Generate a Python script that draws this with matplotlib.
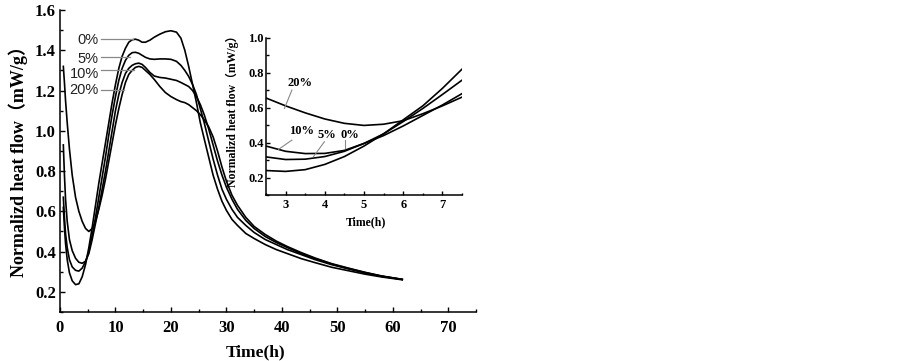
"""Normalized heat flow curves with inset zoom on the early minimum."""

import matplotlib
matplotlib.use("Agg")
import matplotlib.pyplot as plt
from matplotlib.ticker import MultipleLocator

SERIF = ["Liberation Serif", "Noto Sans CJK SC", "DejaVu Serif"]
SANS = ["Liberation Sans", "DejaVu Sans"]

# ── data ───────────────────────────────────────────────────────────────────
series_labels = ["0%", "5%", "10%", "20%"]

t_main = [0.6, 0.8, 1.0, 1.3, 1.7, 2.2, 2.8, 3.4, 4.0, 4.6,
          5.2, 5.8, 6.4, 7.0, 7.6, 8.2, 8.8, 9.4, 10.0, 10.6,
          11.2, 11.8, 12.4, 13.0, 13.6, 14.2, 14.8, 15.4, 16.2, 17.0,
          18.0, 19.0, 20.0, 21.0, 21.8, 22.5, 23.2, 23.9, 24.6, 25.3,
          26.0, 26.8, 27.6, 28.4, 29.2, 30.0, 31.0, 32.0, 33.5, 35.0,
          37.0, 39.0, 41.0, 43.5, 46.0, 49.0, 52.0, 55.0, 58.0, 61.7]

flow_0 = [0.62, 0.52, 0.44, 0.36, 0.295, 0.255, 0.236, 0.24, 0.275, 0.335,
          0.42, 0.52, 0.63, 0.74, 0.84, 0.94, 1.04, 1.14, 1.23, 1.31,
          1.37, 1.41, 1.44, 1.452, 1.455, 1.45, 1.44, 1.44, 1.45, 1.465,
          1.48, 1.492, 1.497, 1.49, 1.46, 1.40, 1.32, 1.23, 1.14, 1.04,
          0.96, 0.87, 0.78, 0.71, 0.65, 0.605, 0.56, 0.53, 0.49, 0.465,
          0.435, 0.41, 0.39, 0.365, 0.345, 0.322, 0.305, 0.288, 0.274, 0.26]

flow_5 = [0.67, 0.57, 0.49, 0.42, 0.36, 0.324, 0.307, 0.303, 0.318, 0.35,
          0.40, 0.48, 0.57, 0.67, 0.77, 0.87, 0.98, 1.08, 1.17, 1.25,
          1.31, 1.35, 1.375, 1.388, 1.39, 1.385, 1.375, 1.365, 1.357, 1.355,
          1.357, 1.357, 1.355, 1.345, 1.325, 1.30, 1.27, 1.23, 1.18, 1.11,
          1.04, 0.95, 0.86, 0.78, 0.71, 0.66, 0.61, 0.57, 0.53, 0.495,
          0.46, 0.435, 0.41, 0.385, 0.36, 0.335, 0.314, 0.294, 0.277, 0.262]

flow_10 = [0.93, 0.78, 0.66, 0.55, 0.46, 0.405, 0.367, 0.347, 0.342, 0.352,
           0.39, 0.46, 0.54, 0.62, 0.71, 0.80, 0.90, 1.00, 1.10, 1.18,
           1.24, 1.285, 1.31, 1.325, 1.333, 1.336, 1.33, 1.315, 1.29, 1.272,
           1.265, 1.262, 1.256, 1.25, 1.24, 1.23, 1.22, 1.20, 1.17, 1.13,
           1.08, 1.01, 0.93, 0.85, 0.78, 0.72, 0.66, 0.61, 0.555, 0.515,
           0.475, 0.445, 0.42, 0.39, 0.365, 0.338, 0.316, 0.296, 0.278, 0.262]

flow_20 = [1.32, 1.24, 1.15, 1.04, 0.91, 0.78, 0.67, 0.60, 0.55, 0.515,
           0.50, 0.515, 0.55, 0.61, 0.68, 0.76, 0.85, 0.94, 1.03, 1.11,
           1.18, 1.24, 1.28, 1.30, 1.315, 1.32, 1.315, 1.30, 1.28, 1.255,
           1.22, 1.19, 1.17, 1.155, 1.145, 1.14, 1.13, 1.115, 1.10, 1.08,
           1.055, 1.02, 0.97, 0.90, 0.82, 0.75, 0.68, 0.63, 0.57, 0.525,
           0.485, 0.452, 0.425, 0.395, 0.368, 0.34, 0.318, 0.297, 0.279, 0.262]

# inset: 2.5 h – 7.5 h
t_inset = [2.5, 3.0, 3.5, 4.0, 4.5, 5.0, 5.5, 6.0, 6.5, 7.0, 7.5]
inset_0 = [0.24, 0.235, 0.245, 0.275, 0.32, 0.38, 0.45, 0.53, 0.61, 0.71, 0.82]
inset_5 = [0.318, 0.303, 0.305, 0.32, 0.35, 0.395, 0.45, 0.52, 0.595, 0.675, 0.757]
inset_10 = [0.38, 0.35, 0.337, 0.338, 0.355, 0.395, 0.44, 0.495, 0.555, 0.615, 0.68]
inset_20 = [0.655, 0.61, 0.57, 0.535, 0.51, 0.498, 0.505, 0.525, 0.565, 0.61, 0.66]

# ── figure ─────────────────────────────────────────────────────────────────
fig = plt.figure(figsize=(9.03, 3.61), dpi=100)
fig.patch.set_facecolor("white")

ax = fig.add_axes([60 / 903, 49 / 361, 416 / 903, 302 / 361])
ax_in = fig.add_axes([266 / 903, 166 / 361, 196 / 903, 157.3 / 361])
ax_in.set_facecolor("none")


def style_axes(a, fs, major, minor, pad_x, pad_y):
    for s in ("top", "right"):
        a.spines[s].set_visible(False)
    for s in ("left", "bottom"):
        a.spines[s].set_linewidth(1.1)
    a.tick_params(which="both", direction="in", width=1.0, labelsize=fs)
    a.tick_params(which="major", length=major)
    a.tick_params(which="minor", length=minor)
    a.tick_params(axis="x", pad=pad_x)
    a.tick_params(axis="y", pad=pad_y)
    for lab in a.get_xticklabels() + a.get_yticklabels():
        lab.set_family(SERIF)
        lab.set_fontweight("bold")


# main curves
for vals in (flow_0, flow_5, flow_10, flow_20):
    ax.plot(t_main, vals, color="black", lw=1.2)

ax.set_xlim(0, 75)
ax.set_ylim(0.1, 1.6)
ax.xaxis.set_major_locator(MultipleLocator(10))
ax.xaxis.set_minor_locator(MultipleLocator(5))
ax.yaxis.set_major_locator(MultipleLocator(0.2))
ax.yaxis.set_minor_locator(MultipleLocator(0.1))
ax.set_xticks(range(0, 71, 10))
ax.set_yticks([0.2, 0.4, 0.6, 0.8, 1.0, 1.2, 1.4, 1.6])
ax.set_yticklabels(["0.2", "0.4", "0.6", "0.8", "1.0", "1.2", "1.4", "1.6"])
style_axes(ax, 12, 3.5, 2, 6, 3)

# main labels with leader lines
label_y = [1.453, 1.359, 1.284, 1.205]
line_y = [1.457, 1.365, 1.304, 1.205]
line_end = [13.2, 12.6, 13.4, 11.5]
for lab, ty, ly, xe in zip(series_labels, label_y, line_y, line_end):
    ax.text(7.0, ty, lab, ha="right", va="center", fontsize=10.5,
            family=SANS, color="#222")
    ax.plot([7.4, xe], [ly, ly], color="#888888", lw=0.9)

fig.text(18 / 903, 1 - 157 / 361, "Normalizd heat flow（mW/g）", rotation=90,
         ha="center", va="center", fontsize=13, fontweight="bold", family=SERIF)
fig.text(256 / 903, 1 - 352 / 361, "Time(h)", ha="center", va="center",
         fontsize=12.5, fontweight="bold", family=SERIF)

# inset curves
for vals in (inset_0, inset_5, inset_10, inset_20):
    ax_in.plot(t_inset, vals, color="black", lw=1.2)

ax_in.set_xlim(2.5, 7.5)
ax_in.set_ylim(0.1, 1.0)
ax_in.set_xticks([3, 4, 5, 6, 7])
ax_in.xaxis.set_minor_locator(MultipleLocator(0.5))
ax_in.set_yticks([0.2, 0.4, 0.6, 0.8, 1.0])
ax_in.set_yticklabels(["0.2", "0.4", "0.6", "0.8", "1.0"])
ax_in.yaxis.set_minor_locator(MultipleLocator(0.1))
style_axes(ax_in, 9, 3, 1.8, 3, 1.5)

# inset labels and leaders
ax_in.text(3.37, 0.738, "20%", ha="center", va="center", fontsize=9,
           fontweight="bold", family=SERIF)
ax_in.plot([3.16, 2.97], [0.70, 0.595], color="#888888", lw=0.8)
ax_in.text(3.41, 0.466, "10%", ha="center", va="center", fontsize=9,
           fontweight="bold", family=SERIF)
ax_in.plot([3.16, 2.82], [0.414, 0.361], color="#888888", lw=0.8)
ax_in.text(4.06, 0.443, "5%", ha="center", va="center", fontsize=9,
           fontweight="bold", family=SERIF)
ax_in.plot([3.99, 3.71], [0.405, 0.319], color="#888888", lw=0.8)
ax_in.text(4.65, 0.443, "0%", ha="center", va="center", fontsize=9,
           fontweight="bold", family=SERIF)
ax_in.plot([4.51, 4.51], [0.414, 0.367], color="#888888", lw=0.8)

fig.text(232 / 903, 1 - 108 / 361, "Normalizd heat flow（mW/g）", rotation=90,
         ha="center", va="center", fontsize=8.5, fontweight="bold", family=SERIF)
fig.text(366 / 903, 1 - 222 / 361, "Time(h)", ha="center", va="center",
         fontsize=8.5, fontweight="bold", family=SERIF)

fig.savefig("out.png", dpi=100, facecolor="white")
